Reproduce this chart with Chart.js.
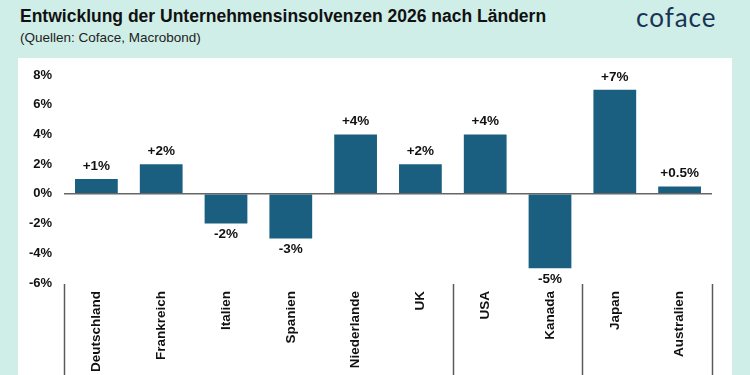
<!DOCTYPE html>
<html>
<head>
<meta charset="utf-8">
<script src="https://cdn.jsdelivr.net/npm/chart.js@4.4.1/dist/chart.umd.min.js"></script>
<style>
  body { margin: 0; width: 750px; height: 375px; background: #cfeee7; position: relative; overflow: hidden;
         font-family: 'Liberation Sans', Arial, sans-serif; }
  #panel { position: absolute; left: 18px; top: 58px; width: 714px; height: 317px; background: #fff; }
  #title { position: absolute; left: 20px; top: 6px; margin: 0; font-size: 17.5px; font-weight: 700; color: #111; }
  #sub { position: absolute; left: 20px; top: 30px; font-size: 13.5px; color: #222; }
  #logo { position: absolute; left: 636px; top: 1px; font-family: Lato, sans-serif; font-weight: 400;
          font-size: 26px; color: #183455; letter-spacing: 1px; }
  #wrap { position: absolute; left: 0; top: 0; width: 750px; height: 375px; }
</style>
</head>
<body>
<div id="panel"></div>
<div id="title">Entwicklung der Unternehmensinsolvenzen 2026 nach Ländern</div>
<div id="sub">(Quellen: Coface, Macrobond)</div>
<div id="logo">coface</div>
<div id="wrap"><canvas id="c" width="750" height="375"></canvas></div>
<script>
// Data
const COUNTRIES = ["Deutschland", "Frankreich", "Italien", "Spanien", "Niederlande",
                   "UK", "USA", "Kanada", "Japan", "Australien"];
const CHANGE = [1, 2, -2, -3, 4, 2, 4, -5, 7, 0.5];
const VALUE_LABELS = ["+1%", "+2%", "-2%", "-3%", "+4%", "+2%", "+4%", "-5%", "+7%", "+0.5%"];
const Y_MIN = -6, Y_MAX = 8, Y_STEP = 2;
// category indices where the dark separators below the axis sit
const GROUP_BREAKS = [0, 6, 8, 10];

const BAR = "#1b5f80";
const FONT = "'Liberation Sans', Arial, sans-serif";

// value labels above positive / below negative bars
const valueLabels = {
  id: "valueLabels",
  afterDatasetsDraw(chart) {
    const { ctx } = chart;
    const meta = chart.getDatasetMeta(0);
    ctx.save();
    ctx.font = `700 13.5px ${FONT}`;
    ctx.fillStyle = "#111";
    ctx.textAlign = "center";
    meta.data.forEach((el, i) => {
      if (CHANGE[i] >= 0) {
        ctx.textBaseline = "bottom";
        ctx.fillText(VALUE_LABELS[i], el.x, el.y - 6);
      } else {
        ctx.textBaseline = "top";
        ctx.fillText(VALUE_LABELS[i], el.x, el.y + 4);
      }
    });
    ctx.restore();
  },
};

// group separators in the label area
const separators = {
  id: "separators",
  afterDraw(chart) {
    const { ctx, chartArea } = chart;
    const xs = chart.scales.x;
    const step = xs.width / COUNTRIES.length;
    ctx.save();
    ctx.strokeStyle = "#5a5a5a";
    ctx.lineWidth = 1.5;
    GROUP_BREAKS.forEach((i) => {
      const x = Math.round(xs.left + i * step) + 0.5;
      ctx.beginPath();
      ctx.moveTo(x, chartArea.bottom + 1);
      ctx.lineTo(x, chart.height);
      ctx.stroke();
    });
    ctx.restore();
  },
};

new Chart(document.getElementById("c"), {
  type: "bar",
  data: {
    labels: COUNTRIES,
    datasets: [{
      data: CHANGE,
      backgroundColor: BAR,
      borderWidth: 0,
      categoryPercentage: 1,
      barPercentage: 0.66,
    }],
  },
  options: {
    responsive: false,
    animation: false,
    layout: { padding: { left: 18, right: 38, top: 75, bottom: 0 } },
    plugins: { legend: { display: false }, tooltip: { enabled: false } },
    scales: {
      x: {
        grid: { display: false, drawTicks: false },
        border: { display: false },
        ticks: {
          color: "#111",
          font: { family: FONT, size: 13.5, weight: "700" },
          minRotation: 90, maxRotation: 90,
          padding: 8,
          autoSkip: false,
        },
        afterFit(s) { s.height = 92; },
      },
      y: {
        min: Y_MIN, max: Y_MAX,
        grid: {
          drawTicks: false,
          color: (c) => (c.tick && c.tick.value === 0 ? "#666" : "transparent"),
          lineWidth: 1.5,
        },
        border: { display: false },
        ticks: {
          stepSize: Y_STEP,
          color: "#111",
          padding: 12,
          font: { family: FONT, size: 13, weight: "700" },
          callback: (v) => v + "%",
        },
        afterFit(s) { s.width = 46; },
      },
    },
  },
  plugins: [valueLabels, separators],
});
</script>
</body>
</html>
